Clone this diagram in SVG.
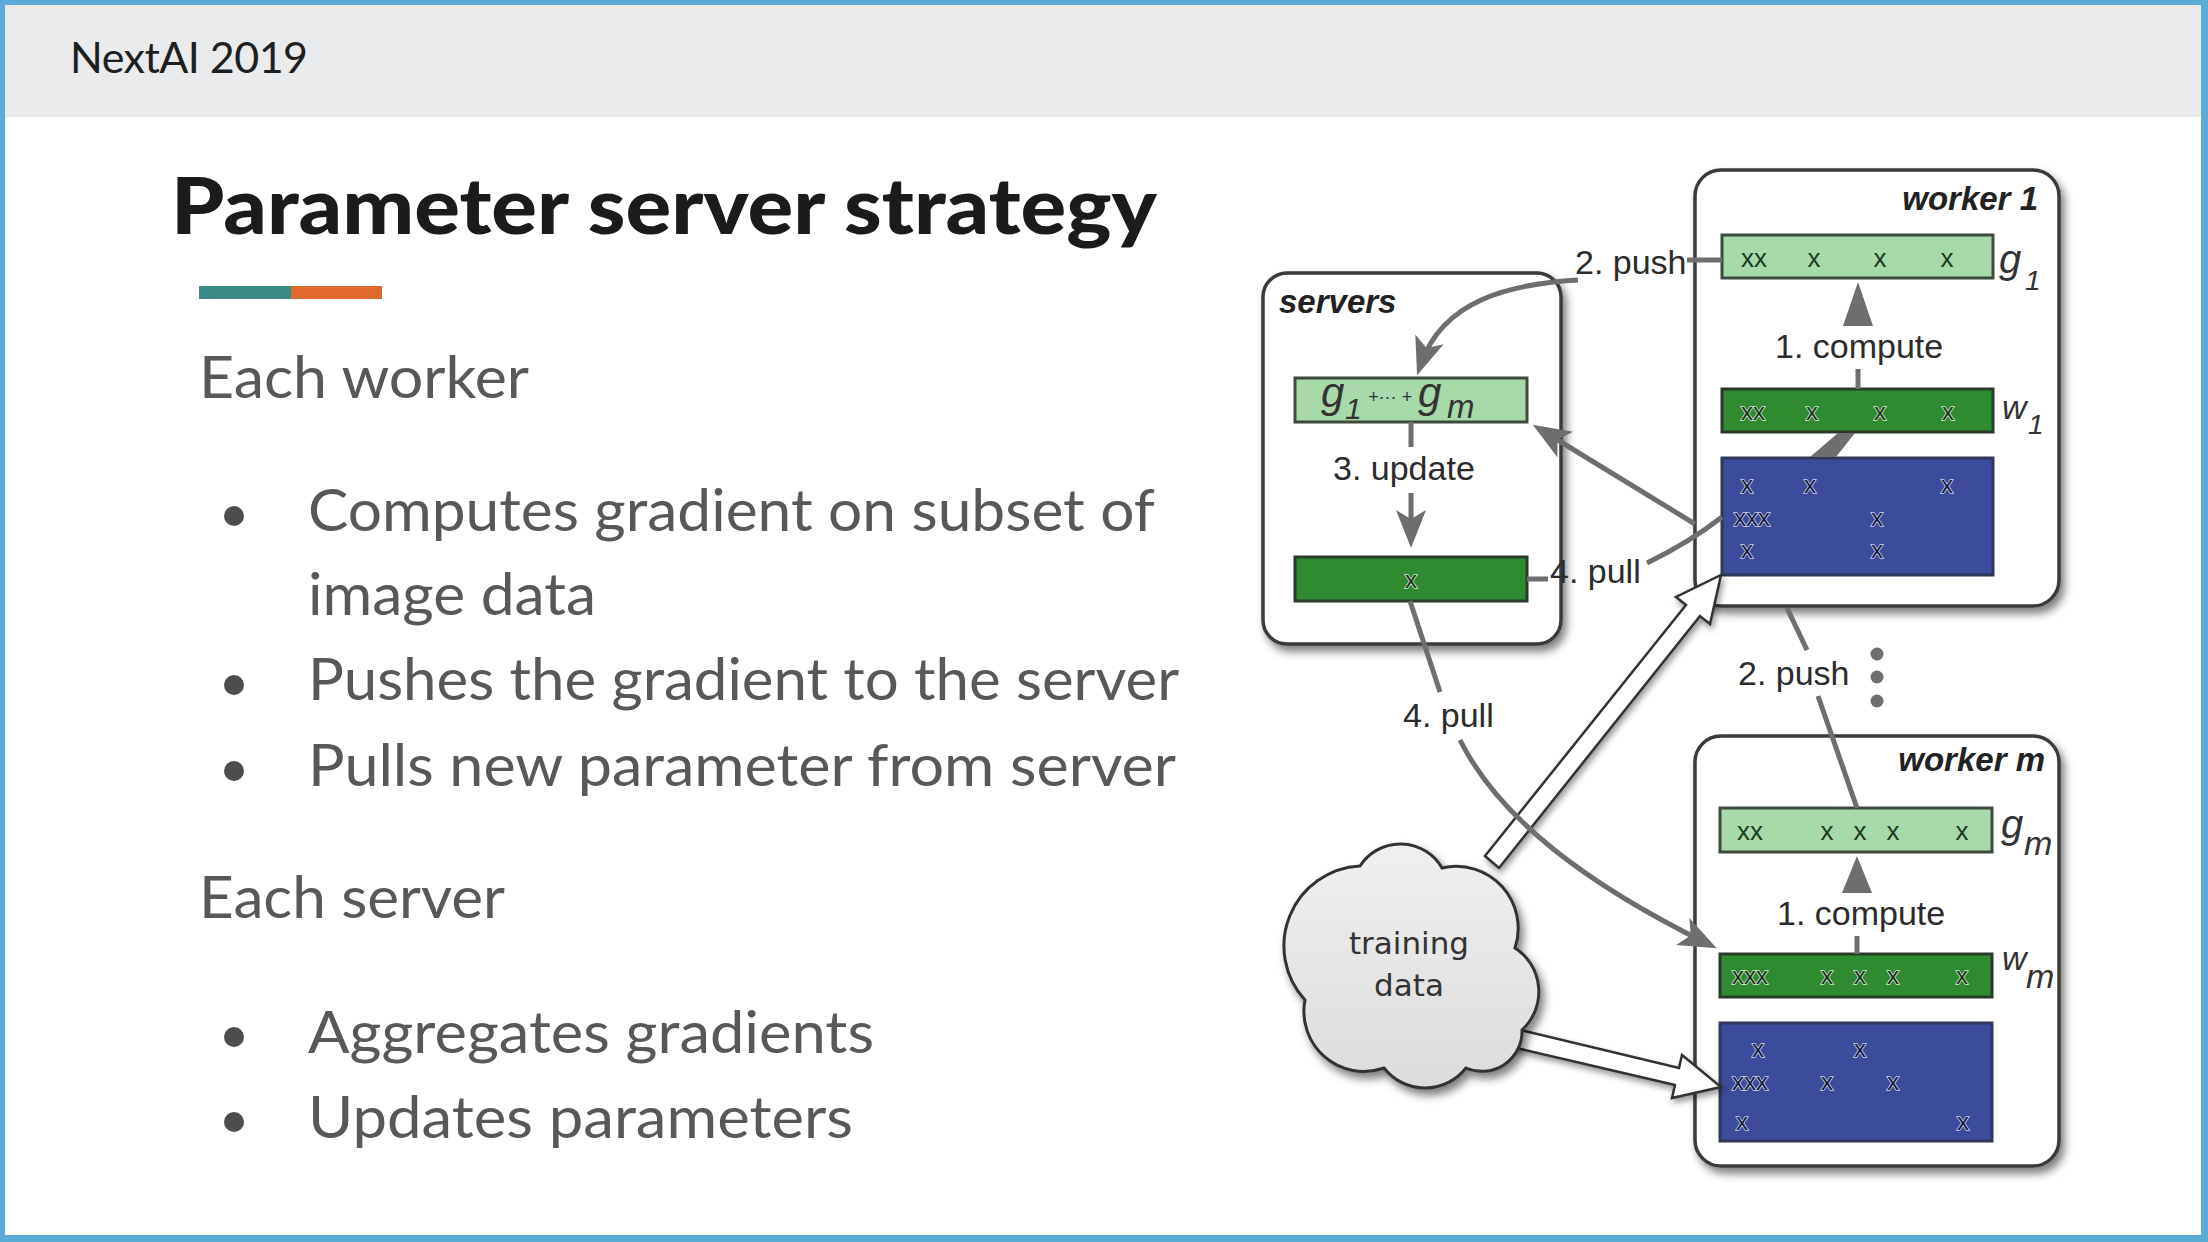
<svg xmlns="http://www.w3.org/2000/svg" width="2208" height="1242" viewBox="0 0 2208 1242">
  <defs>
    <style>
      .hdr{font-family:Lato,"Open Sans","DejaVu Sans",sans-serif;font-size:43px;fill:#1e1e1e}
      .title{font-family:Lato,"Open Sans","DejaVu Sans",sans-serif;font-weight:900;font-size:78px;fill:#1b1b1b}
      .body{font-family:Lato,"Open Sans","DejaVu Sans",sans-serif;font-weight:400;font-size:59px;fill:#585858}
      .dot{fill:#4d4d4d}
      .lbl{font-family:"Liberation Sans",Arial,sans-serif;font-size:34px;fill:#2b2b2b}
      .cloudtxt{font-family:"DejaVu Sans","Liberation Sans",sans-serif;font-size:31px;fill:#333;text-anchor:middle}
      .nname{font-family:"Liberation Sans",Arial,sans-serif;font-size:33px;font-weight:700;font-style:italic;fill:#222}
      .var{font-family:"Liberation Sans",Arial,sans-serif;font-style:italic;fill:#333}
      .box{fill:#fff;stroke:#3a3a3a;stroke-width:3.5}
      .lg{fill:#a7d9aa;stroke:#3d4a3d;stroke-width:3}
      .dg{fill:#2f8b2f;stroke:#2a3a2a;stroke-width:3}
      .blue{fill:#3d4b9d;stroke:#30375a;stroke-width:3}
      .gx{font-family:"Liberation Sans",Arial,sans-serif;font-size:26px;fill:#1d3a1d;text-anchor:middle}
      .wx{font-family:"Liberation Sans",Arial,sans-serif;font-size:24px;fill:#16301a;stroke:#cfe8cf;stroke-width:1.6;paint-order:stroke;text-anchor:middle}
      .bx{font-family:"Liberation Sans",Arial,sans-serif;font-size:24px;fill:#141a3c;stroke:#c9d0ef;stroke-width:1.6;paint-order:stroke;text-anchor:middle}
      .conn{fill:none;stroke:#6e6e6e;stroke-width:5}
      .head{fill:#6e6e6e}
      .hollow{fill:#fff;stroke:#333;stroke-width:2.5;stroke-linejoin:miter}
      .cloud{fill:url(#cloudFill);stroke:#333;stroke-width:3}
    </style>
    <linearGradient id="cloudFill" x1="0" y1="0" x2="0" y2="1">
      <stop offset="0" stop-color="#f0f0f0"/>
      <stop offset="1" stop-color="#dcdcdc"/>
    </linearGradient>
    <filter id="shadow" x="-10%" y="-10%" width="130%" height="130%">
      <feDropShadow dx="4" dy="6" stdDeviation="4" flood-color="#000" flood-opacity="0.5"/>
    </filter>
    <filter id="softShadow" x="-10%" y="-10%" width="130%" height="130%">
      <feDropShadow dx="2" dy="4" stdDeviation="3" flood-color="#000" flood-opacity="0.4"/>
    </filter>
    <marker id="ah" viewBox="-40 -16 54 32" refX="-12" refY="0" markerWidth="54" markerHeight="32" markerUnits="userSpaceOnUse" orient="auto">
      <path d="M0,0 L-38,-15 L-29,0 L-38,15 Z" fill="#6e6e6e"/>
    </marker>
  </defs>

  <!-- slide frame and header band -->
  <rect x="0" y="0" width="2208" height="1242" fill="#5aacd8"/>
  <rect x="5" y="5" width="2196" height="1230" fill="#ffffff"/>
  <rect x="5" y="5" width="2196" height="112" fill="#e9ebec"/>
  <text class="hdr" x="70" y="73" textLength="238">NextAI 2019</text>

  <!-- title and accent bar -->
  <text class="title" x="171" y="234" textLength="986" lengthAdjust="spacingAndGlyphs">Parameter server strategy</text>
  <rect x="199" y="286" width="92" height="13" fill="#3a8a86"/>
  <rect x="291" y="286" width="91" height="13" fill="#e06a2c"/>

  <!-- bullet text -->
  <g id="text-left">
    <text class="body" x="199" y="398" textLength="330" lengthAdjust="spacingAndGlyphs">Each worker</text>
    <circle class="dot" cx="234" cy="516" r="10"/>
    <text class="body" x="308" y="531" textLength="847" lengthAdjust="spacingAndGlyphs">Computes gradient on subset of</text>
    <text class="body" x="308" y="615" textLength="288" lengthAdjust="spacingAndGlyphs">image data</text>
    <circle class="dot" cx="234" cy="685" r="10"/>
    <text class="body" x="308" y="700" textLength="871" lengthAdjust="spacingAndGlyphs">Pushes the gradient to the server</text>
    <circle class="dot" cx="234" cy="771" r="10"/>
    <text class="body" x="308" y="786" textLength="868" lengthAdjust="spacingAndGlyphs">Pulls new parameter from server</text>
    <text class="body" x="199" y="918" textLength="306" lengthAdjust="spacingAndGlyphs">Each server</text>
    <circle class="dot" cx="234" cy="1037" r="10"/>
    <text class="body" x="308" y="1053" textLength="566" lengthAdjust="spacingAndGlyphs">Aggregates gradients</text>
    <circle class="dot" cx="234" cy="1122" r="10"/>
    <text class="body" x="308" y="1138" textLength="545" lengthAdjust="spacingAndGlyphs">Updates parameters</text>
  </g>

  <!-- servers -->
  <g id="servers">
    <rect class="box" x="1263" y="273" width="298" height="371" rx="24" filter="url(#shadow)"/>
    <text class="nname" x="1279" y="313">servers</text>
    <rect class="lg" x="1295" y="378" width="232" height="44"/>
    <text class="var" y="407">
      <tspan x="1321" font-size="42">g</tspan><tspan x="1345" y="419" font-size="30">1</tspan><tspan x="1368" y="403" font-size="18">+··· +</tspan><tspan x="1418" y="407" font-size="42">g</tspan><tspan x="1447" y="418" font-size="33">m</tspan>
    </text>
    <text class="lbl" x="1333" y="480">3. update</text>
    <rect class="dg" x="1295" y="557" width="232" height="44"/>
    <text class="wx" x="1411" y="588" font-size="20">x</text>
  </g>

  <!-- worker 1 -->
  <g id="worker-1">
    <rect class="box" x="1695" y="170" width="364" height="436" rx="26" filter="url(#shadow)"/>
    <text class="nname" x="2038" y="210" text-anchor="end">worker 1</text>
    <rect class="lg" x="1722" y="235" width="271" height="43"/>
    <text class="gx" y="267"><tspan x="1754">xx</tspan><tspan x="1814">x</tspan><tspan x="1880">x</tspan><tspan x="1947">x</tspan></text>
    <text class="var" x="1999" y="273" font-size="40">g</text>
    <text class="var" x="2025" y="290" font-size="28">1</text>
    <text class="lbl" x="1775" y="358">1. compute</text>
    <rect class="dg" x="1722" y="389" width="271" height="43"/>
    <text class="wx" y="420"><tspan x="1753">xx</tspan><tspan x="1812">x</tspan><tspan x="1880">x</tspan><tspan x="1948">x</tspan></text>
    <text class="var" x="2002" y="419" font-size="34">w</text>
    <text class="var" x="2028" y="434" font-size="28">1</text>
    <rect class="blue" x="1722" y="458" width="271" height="117"/>
    <text class="bx" y="493"><tspan x="1747">x</tspan><tspan x="1810">x</tspan><tspan x="1947">x</tspan></text>
    <text class="bx" y="526"><tspan x="1752">xxx</tspan><tspan x="1877">x</tspan></text>
    <text class="bx" y="558"><tspan x="1747">x</tspan><tspan x="1877">x</tspan></text>
  </g>

  <!-- worker m -->
  <g id="worker-m">
    <rect class="box" x="1695" y="736" width="364" height="430" rx="26" filter="url(#shadow)"/>
    <text class="nname" x="2045" y="771" text-anchor="end">worker m</text>
    <rect class="lg" x="1720" y="808" width="272" height="44"/>
    <text class="gx" y="840"><tspan x="1750">xx</tspan><tspan x="1827">x</tspan><tspan x="1860">x</tspan><tspan x="1893">x</tspan><tspan x="1962">x</tspan></text>
    <text class="var" x="2001" y="838" font-size="40">g</text>
    <text class="var" x="2024" y="855" font-size="34">m</text>
    <text class="lbl" x="1777" y="925">1. compute</text>
    <rect class="dg" x="1720" y="954" width="272" height="43"/>
    <text class="wx" y="984"><tspan x="1750">xxx</tspan><tspan x="1827">x</tspan><tspan x="1860">x</tspan><tspan x="1893">x</tspan><tspan x="1962">x</tspan></text>
    <text class="var" x="2002" y="970" font-size="34">w</text>
    <text class="var" x="2026" y="988" font-size="34">m</text>
    <rect class="blue" x="1720" y="1023" width="272" height="118"/>
    <text class="bx" y="1057"><tspan x="1758">x</tspan><tspan x="1860">x</tspan></text>
    <text class="bx" y="1090"><tspan x="1750">xxx</tspan><tspan x="1827">x</tspan><tspan x="1893">x</tspan></text>
    <text class="bx" y="1130"><tspan x="1742">x</tspan><tspan x="1963">x</tspan></text>
  </g>

  <!-- connectors -->
  <g id="connectors">
    <!-- training data feeds (hollow arrows) -->
    <polygon class="hollow" filter="url(#softShadow)" points="1485,856 1686,605 1676,597 1721,575 1710,624 1700,616 1499,868"/>
    <polygon class="hollow" filter="url(#softShadow)" points="1512,1028 1679,1068 1682,1055 1721,1087 1672,1098 1675,1085 1508,1046"/>

    <!-- 2. push from worker 1 -->
    <path class="conn" d="M1687,260 L1722,260"/>
    <path class="conn" d="M1578,280 C1510,284 1443,300 1421,364" marker-end="url(#ah)"/>
    <text class="lbl" x="1575" y="274">2. push</text>

    <!-- 2. push from worker m -->
    <path class="conn" d="M1857,808 L1818,696"/>
    <path class="conn" d="M1807,650 L1787,608"/>
    <path class="conn" d="M1695,524 L1543,431" marker-end="url(#ah)"/>
    <text class="lbl" x="1738" y="685">2. push</text>
    <circle class="head" cx="1877" cy="654" r="6.5"/>
    <circle class="head" cx="1877" cy="677" r="6.5"/>
    <circle class="head" cx="1877" cy="701" r="6.5"/>

    <!-- 3. update -->
    <path class="conn" d="M1411,422 L1411,447"/>
    <path class="conn" d="M1411,493 L1411,536" marker-end="url(#ah)"/>

    <!-- 4. pull to worker 1 -->
    <path class="conn" d="M1527,579 L1548,579"/>
    <path class="conn" d="M1722,517 Q1690,542 1647,563"/>
    <text class="lbl" x="1550" y="583">4. pull</text>

    <!-- 4. pull to worker m -->
    <path class="conn" d="M1410,601 L1440,692"/>
    <path class="conn" d="M1460,740 C1500,820 1589,885 1706,943" marker-end="url(#ah)"/>
    <text class="lbl" x="1403" y="727">4. pull</text>

    <!-- 1. compute, worker 1 -->
    <path class="conn" d="M1858,389 L1858,369"/>
    <polygon class="head" points="1858,282 1843,326 1873,326"/>
    <polygon class="head" points="1810,457 1836,457 1855,433 1838,433"/>

    <!-- 1. compute, worker m -->
    <path class="conn" d="M1857,954 L1857,936"/>
    <polygon class="head" points="1857,856 1842,893 1872,893"/>
  </g>

  <!-- training data -->
  <g id="training-data">
    <path class="cloud" filter="url(#shadow)" d="M1360,866 A48,48 0 0,1 1442,868 A62,62 0 0,1 1515,948 A52,52 0 0,1 1522,1030 A40,40 0 0,1 1466,1068 A52,52 0 0,1 1384,1068 A60,60 0 0,1 1305,1000 A80,80 0 0,1 1360,866 Z"/>
    <text class="cloudtxt" x="1409" y="954">training</text>
    <text class="cloudtxt" x="1409" y="996">data</text>
  </g>
</svg>
